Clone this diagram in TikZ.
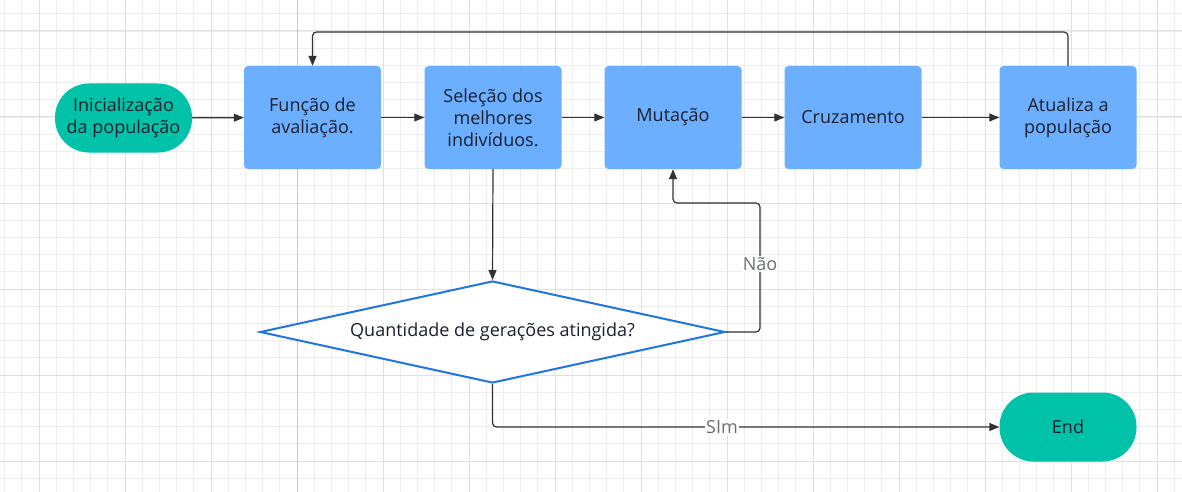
\documentclass[tikz,border=0pt]{standalone}
\usepackage{fontspec}
\setmainfont{Open Sans}
\usetikzlibrary{shapes.geometric,arrows.meta}
\definecolor{boxblue}{RGB}{108,174,255}
\definecolor{teal}{RGB}{0,194,168}
\definecolor{dblue}{RGB}{30,117,230}
\definecolor{txt}{RGB}{25,32,45}
\definecolor{lbl}{RGB}{105,110,120}
\definecolor{lin}{RGB}{50,50,50}
\definecolor{gminor}{RGB}{238,238,238}
\definecolor{gmajor}{RGB}{224,224,224}
\tikzset{
  procbox/.style={draw=none,fill=boxblue,rounded corners=4pt,minimum width=137pt,minimum height=103pt,inner sep=0pt,text=txt,font=\fontsize{18}{22}\selectfont,align=center},
  pill/.style={draw=none,fill=teal,rounded corners=34pt,minimum width=137pt,minimum height=69pt,inner sep=0pt,text=txt,font=\fontsize{18}{22}\selectfont,align=center},
  decision/.style={diamond,draw=dblue,line width=2pt,fill=white,shape aspect=4.56,minimum width=465pt,minimum height=102pt,inner sep=0pt,text=txt,font=\fontsize{18}{22}\selectfont},
  conn/.style={draw=lin,line width=1.2pt,rounded corners=4pt,-{Triangle[length=10pt,width=8pt]}},
  elabel/.style={fill=white,text=lbl,inner sep=1pt,font=\fontsize{18}{20}\selectfont},
}
\begin{document}
\begin{tikzpicture}[x=1pt,y=-1pt]
\useasboundingbox (0,0) rectangle (1182,492);
\fill[white] (0,0) rectangle (1182,492);
% grid
\foreach \i in {0,...,68} {\draw[gminor,line width=0.8pt] ({4.6+17.2*\i},0) -- ({4.6+17.2*\i},492);}
\foreach \i in {0,...,28} {\draw[gminor,line width=0.8pt] (0,{13.8+17.2*\i}) -- (1182,{13.8+17.2*\i});}
\foreach \i in {0,...,13} {\draw[gmajor,line width=1pt] ({39+86*\i},0) -- ({39+86*\i},492);}
\foreach \i in {0,...,5} {\draw[gmajor,line width=1pt] (0,{31+86*\i}) -- (1182,{31+86*\i});}
\draw[gray!45,line width=1pt] (297,0) -- (297,492);
% nodes
\node[pill] (ini) at (123.5,118) {Inicialização\\da população};
\node[procbox] (fun) at (312.5,117.5) {Função de\\avaliação.};
\node[procbox] (sel) at (493,117.5) {Seleção dos\\melhores\\indivíduos.};
\node[procbox] (mut) at (673,117.5) {Mutação};
\node[procbox] (cru) at (853,117.5) {Cruzamento};
\node[procbox] (upd) at (1068,117.5) {Atualiza a\\população};
\node[decision] (dia) at (492.5,332) {Quantidade de gerações atingida?};
\node[pill] (fim) at (1068,427) {End};
\coordinate (top) at (1068,32);
\coordinate (nao) at (760,203);
% connectors
\draw[conn] (ini) -- (fun);
\draw[conn] (fun) -- (sel);
\draw[conn] (sel) -- (mut);
\draw[conn] (mut) -- (cru);
\draw[conn] (cru) -- (upd);
\draw[conn] (upd.north) -- (top) -| (fun.north);
\draw[conn] (sel.south) -- (dia.north);
\draw[conn] (dia.east) -| (nao) -| (mut.south);
\draw[conn] (dia.south) |- (fim.west);
\node[elabel] (lnao) at (760,264) {Não};
\node[elabel] (lsim) at (722,427) {SIm};
\end{tikzpicture}
\end{document}
